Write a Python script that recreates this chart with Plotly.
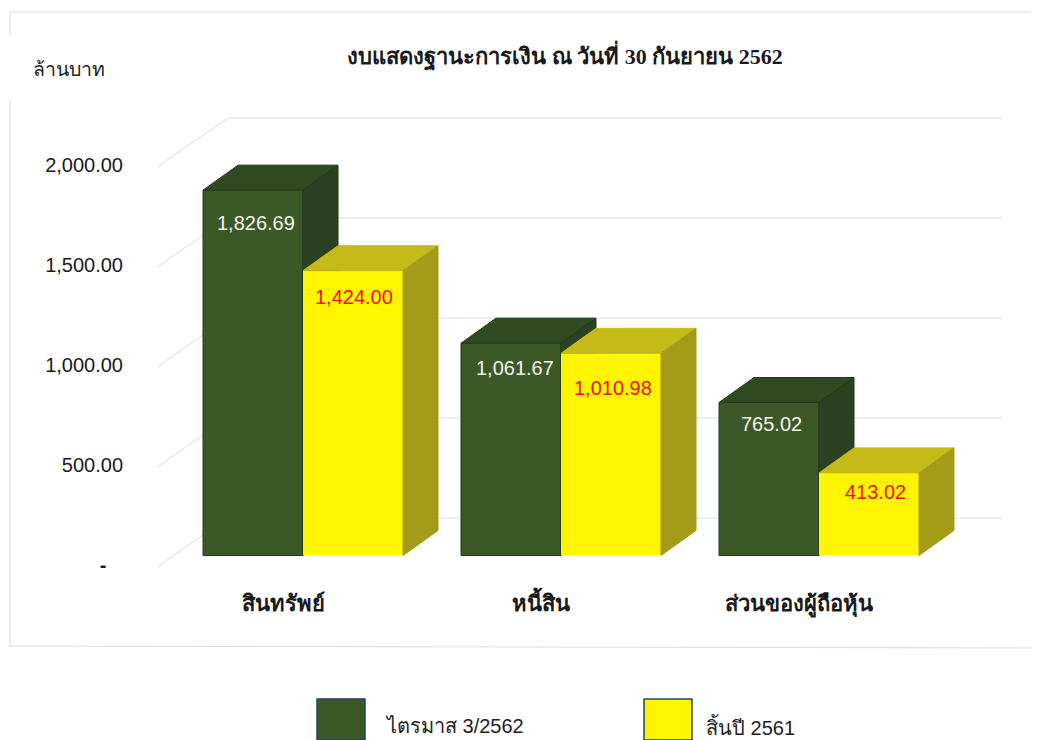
import plotly.graph_objects as go

# ---- data ----
categories = ["สินทรัพย์", "หนี้สิน", "ส่วนของผู้ถือหุ้น"]
series_q3 = [1826.69, 1061.67, 765.02]
series_ye = [1424.00, 1010.98, 413.02]
name_q3 = "ไตรมาส 3/2562"
name_ye = "สิ้นปี 2561"
tick_values = [0, 500, 1000, 1500, 2000]
tick_labels = ["<b>-</b>\u00a0\u00a0\u00a0", "500.00", "1,000.00", "1,500.00", "2,000.00"]
title_text = "งบแสดงฐานะการเงิน ณ วันที่ 30 กันยายน 2562"
unit_text = "ล้านบาท"

# ---- geometry: page pixels -> figure (the page body has an 8px margin) ----
W, H, PAD = 1039, 740, 8
FW, FH = W - PAD, H - PAD
def px(x): return (x - PAD) / FW
def py(y): return 1 - (y - PAD) / FH

PX_X = 258.0            # px per category
X0 = 303.0              # px of first category centre
PX_Y = 0.2              # px per unit
Y0 = 555.5              # px of value 0 on the bar front
x_range = [(PAD - X0) / PX_X, (W - X0) / PX_X]
y_range = [-(H - Y0) / PX_Y, (Y0 - PAD) / PX_Y]
BAR_W = 100 / PX_X
DX, DY = 35 / PX_X, 25 / PX_Y             # bar depth
idx = list(range(len(categories)))

SERIF = "Liberation Serif, Noto Sans, serif"
SANS = "Liberation Sans, Arial, sans-serif"
GRID = "#d9d9e6"
GREEN, GREEN_TOP, GREEN_SIDE, GREEN_EDGE = "#3b5926", "#2f4a20", "#2a4222", "#24381c"
YEL, YEL_TOP, YEL_SIDE = "#fff500", "#c4ba18", "#a49c18"

fig = go.Figure()

def poly(xs, ys, color, xa, ya, line=None):
    fig.add_trace(go.Scatter(x=xs, y=ys, mode="lines", fill="toself", fillcolor=color,
                             line=dict(color=line or color, width=1), hoverinfo="skip",
                             showlegend=False, xaxis=xa, yaxis=ya))

# wall grid lines on the base subplot (behind everything)
GRID_LEFT = (157 - X0) / PX_X
WALL_LEFT = (228 - X0) / PX_X
GRID_RIGHT = (1002 - X0) / PX_X
FRONT_OFF = -(567 - Y0) / PX_Y
WALL_OFF = (Y0 - 518) / PX_Y
for v in tick_values:
    fig.add_trace(go.Scatter(x=[GRID_LEFT, WALL_LEFT, GRID_RIGHT],
                             y=[v + FRONT_OFF, v + WALL_OFF, v + WALL_OFF],
                             mode="lines", line=dict(color=GRID, width=1),
                             hoverinfo="skip", showlegend=False))

# first series: front via bars, top and side via depth polygons
fig.add_trace(go.Bar(x=idx, y=series_q3, width=BAR_W, offset=-BAR_W, name=name_q3,
                     marker=dict(color=GREEN, line=dict(color=GREEN_EDGE, width=1)),
                     xaxis="x2", yaxis="y2"))
for i, v in zip(idx, series_q3):
    l, r = i - BAR_W, i
    poly([l, l + DX, r + DX, r, l], [v, v + DY, v + DY, v, v], GREEN_TOP, "x2", "y2", GREEN_EDGE)
    poly([r, r + DX, r + DX, r, r], [v, v + DY, DY, 0, v], GREEN_SIDE, "x2", "y2", GREEN_EDGE)

# second series on a higher overlay so it sits in front of the first
fig.add_trace(go.Bar(x=idx, y=series_ye, width=BAR_W, offset=0, name=name_ye,
                     marker=dict(color=YEL, line=dict(width=0)), xaxis="x3", yaxis="y3"))
for i, v in zip(idx, series_ye):
    l, r = i, i + BAR_W
    poly([l, l + DX, r + DX, r, l], [v, v + DY, v + DY, v, v], YEL_TOP, "x3", "y3")
    poly([r, r + DX, r + DX, r, r], [v, v + DY, DY, 0, v], YEL_SIDE, "x3", "y3")

# value labels
shift_q3 = [-33, -25, -21]
shift_ye = [-26, -35, -19]
nudge_q3 = [3, 4, 2]
nudge_ye = [1, 2, 6]
for i in idx:
    fig.add_annotation(x=i - BAR_W / 2, y=series_q3[i], xref="x3", yref="y3", text=f"{series_q3[i]:,.2f}",
                       showarrow=False, yshift=shift_q3[i], xshift=nudge_q3[i],
                       font=dict(family=SANS, size=20, color="#f4f4ee"))
    fig.add_annotation(x=i + BAR_W / 2, y=series_ye[i], xref="x3", yref="y3", text=f"{series_ye[i]:,.2f}",
                       showarrow=False, yshift=shift_ye[i], xshift=nudge_ye[i],
                       font=dict(family=SANS, size=20, color="#f01010"))

# panel frame
for (x0, y0, x1, y1) in [(10, 12, W, 12), (10, 12, 10, 35), (10, 100, 10, 646), (8, 646, W, 648)]:
    fig.add_shape(type="line", xref="paper", yref="paper", x0=px(x0), x1=px(x1),
                  y0=py(y0), y1=py(y1), line=dict(color=GRID, width=1))

# legend key drawn to the reference's size
for sx, col, label, tx in [(317, GREEN, name_q3, 383), (644, YEL, name_ye, 704)]:
    fig.add_shape(type="rect", xref="paper", yref="paper", x0=px(sx), x1=px(sx + 48),
                  y0=py(699), y1=py(740), fillcolor=col, line=dict(color="#23415f", width=1.5))
    fig.add_annotation(xref="paper", yref="paper", x=px(tx), y=py(726), text=label,
                       showarrow=False, xanchor="left", yanchor="middle",
                       font=dict(family=SANS, size=20, color="#222222"))

# unit caption
fig.add_annotation(xref="paper", yref="paper", x=px(31), y=py(70), text=unit_text, showarrow=False,
                   xanchor="left", yanchor="middle", font=dict(family=SERIF, size=19.5, color="#222222"))

fig.update_layout(
    width=FW, height=FH, margin=dict(l=0, r=0, t=0, b=0), autosize=False,
    paper_bgcolor="white", plot_bgcolor="rgba(0,0,0,0)", showlegend=False, barmode="overlay",
    title=dict(text=f"<b>{title_text}</b>", x=px(565), xanchor="center", y=py(56), yanchor="middle",
               font=dict(family=SERIF, size=22, color="#1a1a1a")),
    xaxis=dict(range=x_range, domain=[0, 1], tickvals=idx, ticktext=[f"<b>{c}</b>" for c in categories],
               showgrid=False, zeroline=False, showline=False, ticks="", anchor="free",
               position=py(588), ticklabelshift=-20,
               tickfont=dict(family=SANS, size=22, color="#1a1a1a")),
    yaxis=dict(range=y_range, domain=[0, 1], tickvals=tick_values, ticktext=tick_labels,
               showgrid=False, zeroline=False, showline=False, ticks="", anchor="free",
               position=px(123), ticklabelshift=9,
               tickfont=dict(family=SANS, size=20, color="#1a1a1a")),
    xaxis2=dict(range=x_range, overlaying="x", visible=False, anchor="y2"),
    yaxis2=dict(range=y_range, overlaying="y", visible=False, anchor="x2"),
    xaxis3=dict(range=x_range, overlaying="x", visible=False, anchor="y3"),
    yaxis3=dict(range=y_range, overlaying="y", visible=False, anchor="x3"),
)
fig.write_html("out.html")
